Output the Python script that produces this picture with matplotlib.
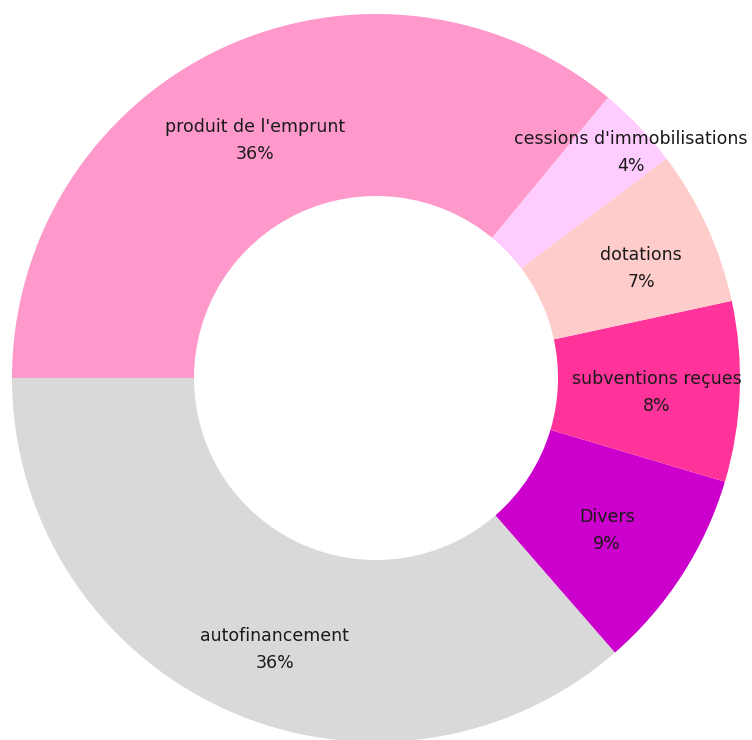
import numpy as np
import matplotlib.pyplot as plt

categorias = ["autofinancement", "Divers", "subventions reçues", "dotations",
              "cessions d'immobilisations", "produit de l'emprunt"]
porcentajes = [36.4, 9.0, 8.0, 6.9, 3.7, 36.0]
etiquetas_pct = [36, 9, 8, 7, 4, 36]
colores = ["#D9D9D9", "#CC00CC", "#FF3399", "#FFCCCC", "#FFCCFF", "#FF99CC"]

# posicion de las etiquetas (radio relativo y giro en grados)
radio_etiqueta = [0.795, 0.76, 0.772, 0.788, 0.934, 0.733]
giro_etiqueta = [4.0, -0.65, -0.8, -2.3, -2.2, 1.7]

fig = plt.figure(figsize=(7.52, 7.40), dpi=100)
ax = fig.add_axes([12 / 752, -2 / 740, 728 / 752, 728 / 740])

wedges, _ = ax.pie(porcentajes, colors=colores, startangle=180, counterclock=True,
                   radius=1.0, wedgeprops=dict(width=0.5, linewidth=0))

for w, cat, p, r, g in zip(wedges, categorias, etiquetas_pct, radio_etiqueta, giro_etiqueta):
    ang = np.deg2rad((w.theta1 + w.theta2) / 2 + g)
    ax.text(r * np.cos(ang), r * np.sin(ang), "%s\n%d%%" % (cat, p),
            ha="center", va="center", fontsize=12.5, linespacing=1.65,
            color="#1a1a1a")

ax.set_xlim(-1, 1)
ax.set_ylim(-1, 1)
ax.set_aspect("equal")
ax.axis("off")

fig.savefig("out.png", dpi=100)
